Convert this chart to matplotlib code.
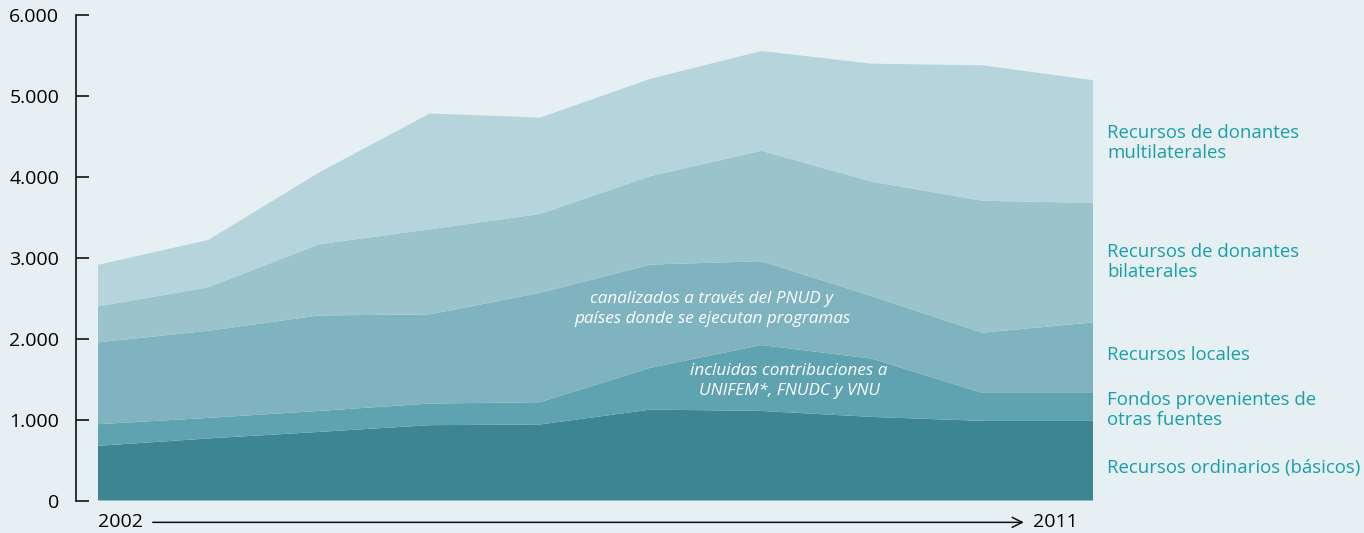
import matplotlib
matplotlib.use("Agg")
import matplotlib.pyplot as plt
import numpy as np

years = [2002, 2003, 2004, 2005, 2006, 2007, 2008, 2009, 2010, 2011]
ordinarios = [676, 767, 848, 931, 940, 1124, 1107, 1033, 984, 984]
otras_fuentes = [267, 254, 259, 267, 275, 518, 814, 720, 345, 345]
locales = [1011, 1077, 1180, 1102, 1352, 1274, 1036, 772, 745, 872]
bilaterales = [444, 538, 880, 1051, 974, 1094, 1365, 1415, 1631, 1476]
multilaterales = [514, 585, 887, 1431, 1191, 1203, 1233, 1458, 1673, 1517]

yticks = [0, 1000, 2000, 3000, 4000, 5000, 6000]
ytick_labels = ["0", "1.000", "2.000", "3.000", "4.000", "5.000", "6.000"]

colors = ["#3d8592", "#5fa2b0", "#7fb3bf", "#9ac3cc", "#b6d4dc"]
bg = "#e6eff2"
teal = "#199fab"

plt.rcParams['font.family'] = ['Open Sans', 'DejaVu Sans']

W, H = 1364, 533
fig = plt.figure(figsize=(W / 100, H / 100), dpi=100, facecolor=bg)
left_px, right_px = 76, 1093
bot_px, top_px = 500.5, 15
ax = fig.add_axes([left_px / W, (H - bot_px) / H, (right_px - left_px) / W, (bot_px - top_px) / H])
ax.set_facecolor(bg)

step_px = (1093 - 98) / 9
ax.set_xlim(2002 - (98 - left_px) / step_px, 2011)
ax.set_ylim(0, 6000)

ax.stackplot(years, ordinarios, otras_fuentes, locales, bilaterales, multilaterales,
             colors=colors, linewidth=0)

for s in ["top", "right", "bottom"]:
    ax.spines[s].set_visible(False)
ax.spines["left"].set_linewidth(1.2)
ax.spines["left"].set_color("#111111")
ax.set_yticks(yticks)
ax.set_yticklabels(ytick_labels, fontsize=14)
ax.tick_params(axis="y", direction="in", length=9, width=1.2, color="#111111", pad=12)
ax.set_xticks([])

# x axis arrow
yt = -0.045
ax.text(2002, yt, "2002", transform=ax.get_xaxis_transform(), ha="left", va="center", fontsize=14, clip_on=False)
ax.text(2011 - 0.54, yt, "2011", transform=ax.get_xaxis_transform(), ha="left", va="center", fontsize=14, clip_on=False)
ax.annotate("", xy=(2011 - 0.6, yt), xytext=(2002 + 0.47, yt),
            xycoords=ax.get_xaxis_transform(), textcoords=ax.get_xaxis_transform(),
            arrowprops=dict(arrowstyle="->", lw=1.1, color="#111111", mutation_scale=18),
            annotation_clip=False)

# right labels
def ylab(py):
    return (bot_px - py) / (bot_px - top_px) * 6000

lx = 2011 + (1107 - 1093) / step_px
labels = [
    ("Recursos de donantes\nmultilaterales", 143),
    ("Recursos de donantes\nbilaterales", 262),
    ("Recursos locales", 355),
    ("Fondos provenientes de\notras fuentes", 410),
    ("Recursos ordinarios (básicos)", 468),
]
for txt, py in labels:
    ax.text(lx, ylab(py), txt, ha="left", va="center", fontsize=13.4, color=teal,
            linespacing=1.08, clip_on=False)

# inner annotations
def xd(px):
    return 2002 + (px - 98) / step_px

ax.text(xd(712), ylab(309), "canalizados a través del PNUD y\npaíses donde se ejecutan programas",
        ha="center", va="center", fontsize=12.3, style="italic", color="white", linespacing=1.35)
ax.text(xd(789), ylab(381), "incluidas contribuciones a\nUNIFEM*, FNUDC y VNU",
        ha="center", va="center", fontsize=12.3, style="italic", color="white", linespacing=1.35)

fig.savefig("out.png", dpi=100, facecolor=bg)
